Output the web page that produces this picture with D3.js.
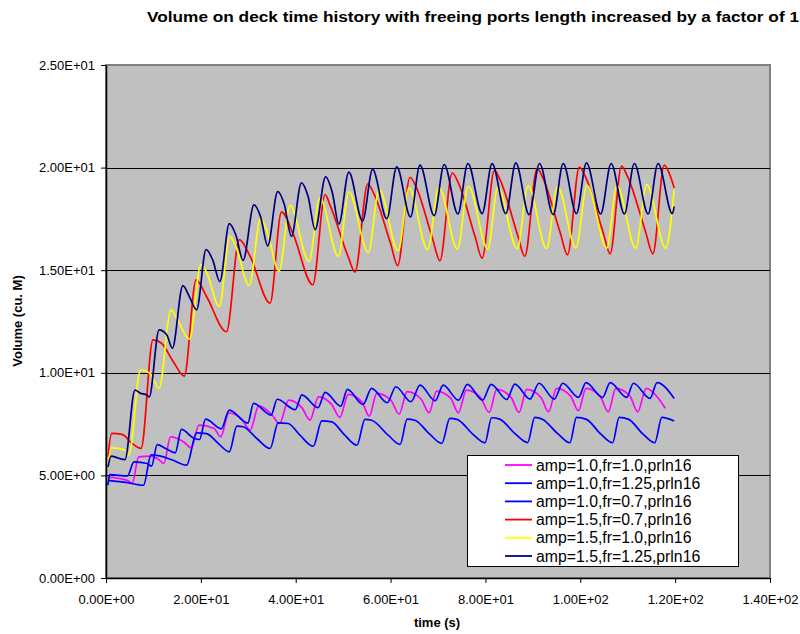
<!DOCTYPE html>
<html>
<head>
<meta charset="utf-8">
<script src="https://cdn.jsdelivr.net/npm/d3@7"></script>
<style>
  html, body { margin: 0; padding: 0; background: #fff; }
  svg { display: block; font-family: Arial, "Liberation Sans", sans-serif; }
</style>
</head>
<body>
<svg id="chart" width="800" height="634"></svg>
<script>
// Volume on deck time histories, [time s, volume cu. M] at turning points of each record
const amp10fr10 = [[0.4,4.92],[4.5,4.76],[5.5,4.6],[6.9,5.9],[9.4,5.94],[11.0,5.8],[12.2,5.58],[13.6,6.88],[16.4,6.63],[18.0,6.34],[19.6,7.45],[22.8,7.29],[24.2,6.88],[25.9,8.04],[28.6,7.75],[30.4,7.2],[32.2,8.39],[35.0,7.95],[36.6,7.53],[38.5,8.67],[41.3,8.3],[43.0,7.69],[44.8,8.83],[47.6,8.45],[49.3,7.83],[51.1,8.95],[54.0,8.57],[55.5,7.89],[57.1,9.0],[60.1,8.65],[61.8,7.99],[63.5,9.08],[66.5,8.7],[68.1,8.05],[69.7,9.11],[72.7,8.75],[74.3,8.05],[76.0,9.16],[79.0,8.78],[80.8,8.07],[82.4,9.19],[85.4,8.8],[87.1,8.07],[88.7,9.19],[91.7,8.8],[93.3,8.1],[95.0,9.24],[98.0,8.85],[99.6,8.15],[101.2,9.24],[104.2,8.85],[105.9,8.1],[107.5,9.24],[110.5,8.85],[112.1,8.1],[113.9,9.24],[116.5,8.75],[117.9,8.27]];

const amp10fr125 = [[0.4,4.52],[0.8,5.04],[4.5,4.97],[5.9,5.66],[8.7,5.58],[9.6,5.45],[10.8,6.5],[12.6,6.31],[14.6,6.1],[15.9,7.24],[18.6,6.8],[19.7,6.75],[21.0,7.74],[24.3,7.27],[26.0,8.18],[29.9,7.55],[31.1,8.51],[34.8,7.94],[36.1,8.71],[39.9,8.2],[41.3,8.92],[44.7,8.3],[46.2,9.05],[49.5,8.38],[50.9,9.19],[54.2,8.46],[56.0,9.24],[59.3,8.54],[61.1,9.32],[64.3,8.59],[66.2,9.4],[69.4,8.64],[71.1,9.4],[74.3,8.67],[76.2,9.44],[79.4,8.67],[81.2,9.44],[84.5,8.7],[86.2,9.45],[89.4,8.72],[91.3,9.49],[94.5,8.72],[96.3,9.49],[99.6,8.8],[101.2,9.52],[104.7,8.8],[106.3,9.52],[109.8,8.8],[111.2,9.49],[114.7,8.75],[116.2,9.52],[119.8,8.75]];

const amp10fr07 = [[0.4,4.76],[4.5,4.65],[7.9,4.52],[9.5,6.0],[11.3,5.95],[14.0,5.75],[17.0,5.5],[19.1,7.07],[21.2,7.04],[23.5,6.6],[26.0,6.15],[27.6,7.4],[28.9,7.37],[31.8,6.8],[34.6,6.31],[36.3,7.56],[38.4,7.53],[40.9,6.96],[43.7,6.42],[45.5,7.66],[47.6,7.61],[50.2,7.0],[52.9,6.47],[54.6,7.73],[56.0,7.69],[59.5,6.96],[62.0,6.51],[63.5,7.74],[65.1,7.69],[68.3,7.0],[70.8,6.56],[72.5,7.78],[74.1,7.72],[77.4,7.0],[79.9,6.59],[81.3,7.81],[83.0,7.74],[86.3,7.02],[88.9,6.6],[90.4,7.83],[92.0,7.74],[95.3,7.02],[97.8,6.59],[99.2,7.83],[101.3,7.73],[104.3,7.02],[106.8,6.59],[108.2,7.83],[110.2,7.73],[113.2,7.02],[115.7,6.59],[117.2,7.83],[119.8,7.65]];

const amp15fr07 = [[0.4,5.9],[1.2,7.05],[3.4,7.0],[5.5,6.56],[7.4,6.32],[9.9,11.6],[11.7,11.44],[14.2,10.54],[16.5,9.84],[19.0,14.53],[21.2,13.72],[25.4,12.0],[28.1,16.49],[30.4,15.67],[34.6,13.4],[37.0,17.84],[39.5,16.73],[43.6,14.29],[46.2,18.69],[47.2,18.2],[51.0,15.7],[52.5,14.91],[55.2,19.21],[56.4,18.77],[60.0,16.3],[61.5,15.22],[64.1,19.53],[65.3,19.1],[68.9,16.5],[70.4,15.46],[73.0,19.75],[74.2,19.3],[77.8,16.65],[79.3,15.59],[81.9,19.86],[83.1,19.4],[86.8,16.7],[88.3,15.67],[90.9,19.96],[92.1,19.5],[95.8,16.8],[97.3,15.75],[99.8,20.02],[101.0,19.6],[104.8,16.85],[106.3,15.8],[108.7,20.07],[109.9,19.6],[113.8,16.85],[115.3,15.8],[117.7,20.12],[118.8,19.7],[119.8,19.01]];

const amp15fr10 = [[0.4,5.41],[1.1,6.34],[4.1,6.23],[4.8,5.98],[7.3,10.14],[9.3,9.97],[11.2,9.24],[13.7,13.07],[14.8,12.7],[17.6,11.64],[20.0,15.27],[21.2,14.9],[23.9,13.23],[26.1,16.65],[27.3,16.2],[30.2,14.26],[32.6,17.51],[33.8,17.0],[36.5,14.97],[38.8,18.16],[42.8,15.43],[45.1,18.52],[49.0,15.67],[51.2,18.82],[55.3,15.87],[57.6,18.93],[61.6,15.95],[63.9,19.01],[67.8,16.0],[70.2,19.04],[74.1,16.03],[76.4,19.09],[80.5,16.03],[82.6,19.04],[86.7,16.05],[89.0,19.12],[92.9,16.05],[95.2,19.09],[99.1,16.08],[101.4,19.14],[105.6,16.08],[107.7,19.12],[111.7,16.08],[114.0,19.17],[118.0,16.08],[119.8,18.93]];

const amp15fr125 = [[0.4,5.4],[1.1,5.94],[2.5,5.85],[4.0,5.77],[6.1,9.16],[7.2,9.01],[8.6,8.92],[9.1,8.82],[11.2,12.09],[12.8,11.85],[14.0,11.2],[16.2,14.25],[17.6,13.7],[19.1,13.07],[21.1,16.0],[22.5,15.5],[24.0,14.45],[26.0,17.27],[27.4,16.7],[28.9,15.48],[31.2,18.18],[32.6,17.6],[34.1,16.19],[36.2,18.83],[37.6,18.2],[39.1,16.65],[41.2,19.26],[42.6,18.6],[44.1,16.98],[46.3,19.55],[47.7,18.8],[49.1,17.25],[51.2,19.78],[54.1,17.4],[56.2,19.91],[59.2,17.51],[61.3,20.04],[64.2,17.6],[66.2,20.12],[69.2,17.66],[71.3,20.15],[74.2,17.74],[76.3,20.2],[79.3,17.76],[81.4,20.19],[84.3,17.76],[86.4,20.23],[89.2,17.71],[91.4,20.2],[94.3,17.71],[96.4,20.2],[99.2,17.76],[101.3,20.23],[104.3,17.74],[106.5,20.2],[109.3,17.74],[111.4,20.2],[114.3,17.74],[116.4,20.2],[119.4,17.76],[119.8,18.1]];

const seriesNames = ["amp=1.0,fr=1.0,prln16", "amp=1.0,fr=1.25,prln16", "amp=1.0,fr=0.7,prln16",
                     "amp=1.5,fr=0.7,prln16", "amp=1.5,fr=1.0,prln16", "amp=1.5,fr=1.25,prln16"];
const seriesData = [amp10fr10, amp10fr125, amp10fr07, amp15fr07, amp15fr10, amp15fr125];
const seriesColors = ["#ff00ff", "#0000ff", "#0000ff", "#ff0000", "#ffff00", "#000080"];

const xTicks = [0, 20, 40, 60, 80, 100, 120, 140];
const yTicks = [0, 5, 10, 15, 20, 25];

const titleText = "Volume on deck time history with freeing ports length increased by a factor of 1";
const xTitle = "time (s)";
const yTitle = "Volume (cu. M)";

// ---- drawing ----
const svg = d3.select("#chart");
const plot = { left: 106, right: 770, top: 65, bottom: 578 };

const x = d3.scaleLinear().domain([0, 140]).range([plot.left, plot.right]);
const y = d3.scaleLinear().domain([0, 25]).range([plot.bottom, plot.top]);

// Excel-style scientific labels, e.g. 2.50E+01
const sci = v => {
  if (v === 0) return "0.00E+00";
  const e = Math.floor(Math.log10(Math.abs(v)));
  const m = v / Math.pow(10, e);
  return m.toFixed(2) + "E" + (e < 0 ? "-" : "+") + String(Math.abs(e)).padStart(2, "0");
};

// plot area
svg.append("rect")
  .attr("x", plot.left).attr("y", plot.top)
  .attr("width", plot.right - plot.left).attr("height", plot.bottom - plot.top)
  .attr("fill", "#c0c0c0").attr("stroke", "#808080").attr("stroke-width", 2);

// horizontal gridlines
svg.append("g")
  .selectAll("line")
  .data(yTicks.filter(d => d > 0 && d < 25))
  .join("line")
  .attr("x1", plot.left).attr("x2", plot.right)
  .attr("y1", d => Math.round(y(d)) + 0.5).attr("y2", d => Math.round(y(d)) + 0.5)
  .attr("stroke", "#000").attr("stroke-width", 1);

// axes
const yAxis = d3.axisLeft(y).tickValues(yTicks).tickFormat(sci).tickSizeInner(5).tickSizeOuter(0).tickPadding(6);
const xAxis = d3.axisBottom(x).tickValues(xTicks).tickFormat(sci).tickSizeInner(5).tickSizeOuter(0).tickPadding(12);

const gy = svg.append("g").attr("transform", `translate(${plot.left},0)`).call(yAxis);
const gx = svg.append("g").attr("transform", `translate(0,${plot.bottom})`).call(xAxis);
[gx, gy].forEach(g => {
  g.selectAll("path").attr("stroke", "#000").attr("stroke-width", 1.5);
  g.selectAll("line").attr("stroke", "#000");
  g.selectAll("text").attr("fill", "#000").style("font-size", "13px").style("font-family", "Arial, 'Liberation Sans', sans-serif");
});

// series lines
const line = d3.line()
  .x(d => x(d[0]))
  .y(d => y(d[1]))
  .curve(d3.curveMonotoneX);

svg.append("g")
  .selectAll("path")
  .data(seriesData)
  .join("path")
  .attr("d", line)
  .attr("fill", "none")
  .attr("stroke", (d, i) => seriesColors[i])
  .attr("stroke-width", 1.7)
  .attr("stroke-linejoin", "round");

// titles
svg.append("text")
  .attr("x", 147).attr("y", 22)
  .attr("font-size", 14).attr("font-weight", "bold")
  .attr("textLength", 652).attr("lengthAdjust", "spacingAndGlyphs")
  .text(titleText);

svg.append("text")
  .attr("x", 437).attr("y", 627)
  .attr("text-anchor", "middle")
  .attr("font-size", 13).attr("font-weight", "bold")
  .text(xTitle);

svg.append("text")
  .attr("transform", "translate(22,321) rotate(-90)")
  .attr("text-anchor", "middle")
  .attr("font-size", 13).attr("font-weight", "bold")
  .text(yTitle);

// legend
const legend = svg.append("g");
legend.append("rect")
  .attr("x", 467.5).attr("y", 455.5).attr("width", 271).attr("height", 111)
  .attr("fill", "#fff").attr("stroke", "#000").attr("stroke-width", 1);

const rowY = d3.scaleLinear().domain([0, 5]).range([465, 556]);
const rows = legend.selectAll("g.row")
  .data(seriesNames)
  .join("g")
  .attr("class", "row")
  .attr("transform", (d, i) => `translate(0,${rowY(i)})`);
rows.append("line")
  .attr("x1", 505).attr("x2", 532).attr("y1", 0).attr("y2", 0)
  .attr("stroke", (d, i) => seriesColors[i]).attr("stroke-width", 1.8);
rows.append("text")
  .attr("x", 536).attr("y", 5.5)
  .attr("font-size", 15.8)
  .text(d => d);
</script>
</body>
</html>
